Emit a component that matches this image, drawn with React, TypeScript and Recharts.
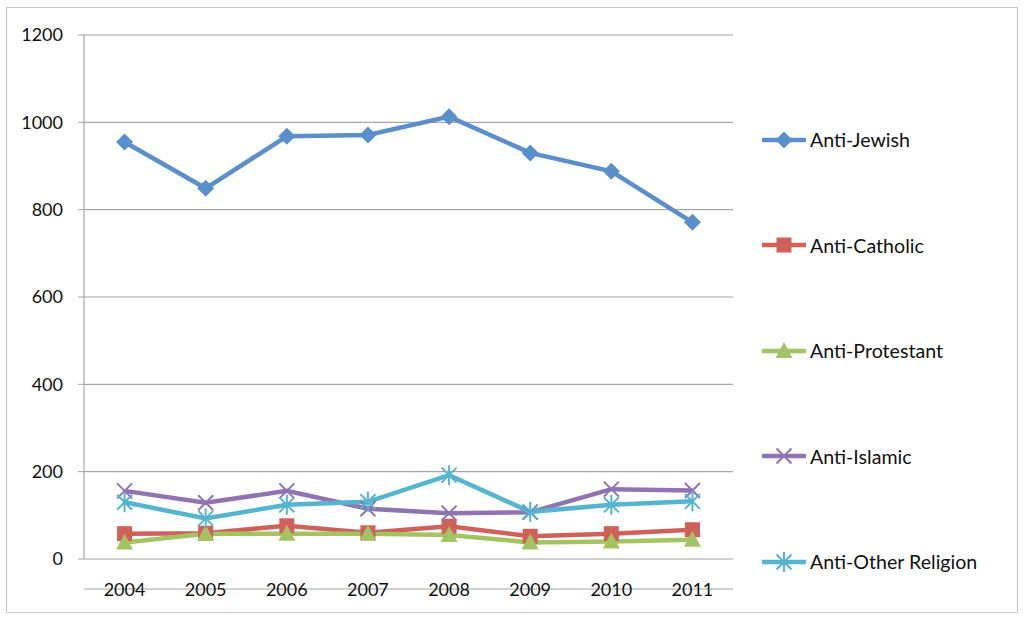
import React from 'react';
import { LineChart, Line, XAxis, YAxis, CartesianGrid } from 'recharts';

const years = ['2004', '2005', '2006', '2007', '2008', '2009', '2010', '2011'];
const antiJewish = [955, 849, 968, 971, 1013, 930, 888, 771];
const antiCatholic = [58, 59, 76, 60, 75, 52, 58, 67];
const antiProtestant = [38, 58, 58, 58, 55, 38, 40, 44];
const antiIslamic = [156, 129, 156, 115, 105, 107, 160, 157];
const antiOther = [130, 93, 124, 131, 192, 108, 124, 132];
const yTicks = [0, 200, 400, 600, 800, 1000, 1200];

const FONT = 'Lato, "Open Sans", sans-serif';
const GRID = '#A6A6A6';

type Shape = 'diamond' | 'square' | 'triangle' | 'cross' | 'star';

const series: { key: string; name: string; color: string; shape: Shape }[] = [
  { key: 'jewish', name: 'Anti-Jewish', color: '#5A8FCB', shape: 'diamond' },
  { key: 'catholic', name: 'Anti-Catholic', color: '#D0605A', shape: 'square' },
  { key: 'protestant', name: 'Anti-Protestant', color: '#A4C463', shape: 'triangle' },
  { key: 'islamic', name: 'Anti-Islamic', color: '#9073B1', shape: 'cross' },
  { key: 'other', name: 'Anti-Other Religion', color: '#55B5CF', shape: 'star' },
];

const data = years.map((year, i) => ({
  year,
  pos: i + 0.5,
  jewish: antiJewish[i],
  catholic: antiCatholic[i],
  protestant: antiProtestant[i],
  islamic: antiIslamic[i],
  other: antiOther[i],
}));

function marker(shape: Shape, cx: number, cy: number, color: string, key?: string | number) {
  switch (shape) {
    case 'diamond':
      return <path key={key} d={`M${cx} ${cy - 8.5}L${cx + 8.5} ${cy}L${cx} ${cy + 8.5}L${cx - 8.5} ${cy}Z`} fill={color} />;
    case 'square':
      return <rect key={key} x={cx - 7.5} y={cy - 7.5} width={15} height={15} fill={color} />;
    case 'triangle':
      return <path key={key} d={`M${cx} ${cy - 9}L${cx + 8.5} ${cy + 7}L${cx - 8.5} ${cy + 7}Z`} fill={color} />;
    case 'cross':
      return (
        <path key={key} d={`M${cx - 7.5} ${cy - 7.5}L${cx + 7.5} ${cy + 7.5}M${cx + 7.5} ${cy - 7.5}L${cx - 7.5} ${cy + 7.5}`}
          stroke={color} strokeWidth={2} fill="none" />
      );
    case 'star':
      return (
        <path key={key}
          d={`M${cx - 7.5} ${cy - 7.5}L${cx + 7.5} ${cy + 7.5}M${cx + 7.5} ${cy - 7.5}L${cx - 7.5} ${cy + 7.5}M${cx} ${cy - 10}L${cx} ${cy + 10}`}
          stroke={color} strokeWidth={2} fill="none" />
      );
  }
}

const makeDot = (shape: Shape, color: string) => (props: any) => {
  const { cx, cy, index } = props;
  if (cx == null || cy == null) return <g key={index} />;
  return marker(shape, cx, cy, color, index);
};

function LegendBox() {
  return (
    <div style={{ position: 'absolute', left: 762, top: 87, fontFamily: FONT, fontSize: 19.6, color: '#111' }}>
      {series.map((s) => (
        <div key={s.key} style={{ height: 105.5, display: 'flex', alignItems: 'center' }}>
          <svg width={48} height={22} style={{ display: 'block' }}>
            <line x1={0} y1={11} x2={44} y2={11} stroke={s.color} strokeWidth={4.5} />
            {marker(s.shape, 22, 11, s.color)}
          </svg>
          <span>{s.name}</span>
        </div>
      ))}
    </div>
  );
}

export default function App() {
  return (
    <div style={{ position: 'fixed', left: 0, top: 0, width: 1024, height: 619, background: '#fff' }}>
      <div style={{ position: 'absolute', left: 6, top: 7, width: 1010, height: 604, border: '1px solid #C6C6C6' }} />
      <LineChart width={1024} height={619} data={data} margin={{ top: 35, right: 291, bottom: 29, left: 0 }}
        style={{ position: 'absolute', left: 0, top: 0, fontFamily: FONT }}>
        <CartesianGrid vertical={false} stroke={GRID} strokeWidth={1.2} />
        <XAxis xAxisId="frame" type="number" domain={[0, 8]} ticks={[0, 1, 2, 3, 4, 5, 6, 7, 8]} tick={false}
          height={1} tickSize={7} tickLine={{ stroke: GRID, strokeWidth: 1.2 }}
          axisLine={{ stroke: GRID, strokeWidth: 1.2 }} />
        <XAxis dataKey="pos" type="number" domain={[0, 8]} ticks={data.map((d) => d.pos)}
          tickFormatter={(v: number) => years[Math.floor(v)]} height={30} tickLine={false}
          axisLine={false} tickMargin={18}
          tick={{ fill: '#111', fontSize: 18, fontFamily: FONT }} />
        <YAxis domain={[0, 1200]} ticks={yTicks} width={84} tickSize={6} tickMargin={15}
          stroke={GRID} axisLine={{ stroke: GRID, strokeWidth: 1.2 }}
          tick={{ fill: '#111', fontSize: 18, fontFamily: FONT }} />
        {series.map((s) => (
          <Line key={s.key} dataKey={s.key} name={s.name} stroke={s.color} strokeWidth={4.5}
            isAnimationActive={false} dot={makeDot(s.shape, s.color)} activeDot={false} />
        ))}
      </LineChart>
      <LegendBox />
    </div>
  );
}
